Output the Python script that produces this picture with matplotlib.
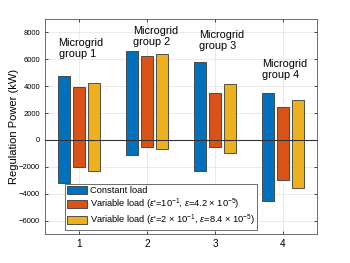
import matplotlib
matplotlib.use("Agg")
import matplotlib.pyplot as plt
import numpy as np

groups = [1, 2, 3, 4]
group_labels = ["Microgrid\ngroup 1", "Microgrid\ngroup 2", "Microgrid\ngroup 3", "Microgrid\ngroup 4"]
series_names = [
    "Constant load",
    r"Variable load ($\epsilon$'=10$^{-1}$, $\epsilon$=4.2 $\times$ 10$^{-5}$)",
    r"Variable load ($\epsilon$'=2 $\times$ 10$^{-1}$, $\epsilon$=8.4 $\times$ 10$^{-5}$)",
]
upper = [
    [4750, 6630, 5790, 3480],
    [3950, 6210, 3480, 2470],
    [4200, 6360, 4180, 2960],
]
lower = [
    [-3200, -1120, -2340, -4520],
    [-1980, -510, -490, -3010],
    [-2280, -660, -960, -3560],
]
label_pos = [(0.70, 7600), (1.79, 8480), (2.76, 8180), (3.69, 6030)]
colors = ["#0072BD", "#D95319", "#EDB120"]

plt.rcParams["font.family"] = ["Liberation Sans", "DejaVu Sans"]
plt.rcParams["mathtext.fontset"] = "custom"
plt.rcParams["mathtext.rm"] = "Liberation Sans"
plt.rcParams["mathtext.it"] = "Liberation Sans:italic"

fig = plt.figure(figsize=(3.5, 2.63), dpi=100)
ax = fig.add_axes([45 / 350, 1 - 234 / 263, 272 / 350, 215 / 263])

x = np.array(groups, dtype=float)
offsets = [-0.225, 0.0, 0.225]
for k in range(3):
    lo = np.array(lower[k])
    hi = np.array(upper[k])
    ax.bar(x + offsets[k], hi - lo, bottom=lo, width=0.18, color=colors[k],
           edgecolor="#3a3a3a", linewidth=0.6, label=series_names[k], zorder=3)

ax.axhline(0, color="#333333", linewidth=0.8, zorder=4)

for (tx, ty), txt in zip(label_pos, group_labels):
    ax.text(tx, ty, txt, fontsize=7.8, ha="left", va="top", linespacing=1.15, zorder=5)

ax.set_xlim(0.5, 4.5)
ax.set_ylim(-7000, 9000)
ax.set_xticks(groups)
ax.set_yticks(range(-6000, 8001, 2000))
ax.tick_params(axis="x", labelsize=7.2, direction="in", length=2, top=True, width=0.5)
ax.tick_params(axis="y", labelsize=5.5, direction="in", length=2, right=True, width=0.5)
ax.grid(True, color="#e6e6e6", linewidth=0.6, zorder=0)
ax.set_axisbelow(True)
for s in ax.spines.values():
    s.set_color("#555555")
    s.set_linewidth(0.6)
ax.set_ylabel("Regulation Power (kW)", fontsize=8, labelpad=0)

leg = ax.legend(loc="lower left", bbox_to_anchor=(0.0735, 0.019), borderaxespad=0, fontsize=6.7,
                handlelength=2.2, handleheight=0.95, borderpad=0.2, labelspacing=0.12,
                handletextpad=0.3, fancybox=False, framealpha=1, edgecolor="#555555")
leg.get_frame().set_linewidth(0.6)

fig.savefig("out.png", dpi=100)
